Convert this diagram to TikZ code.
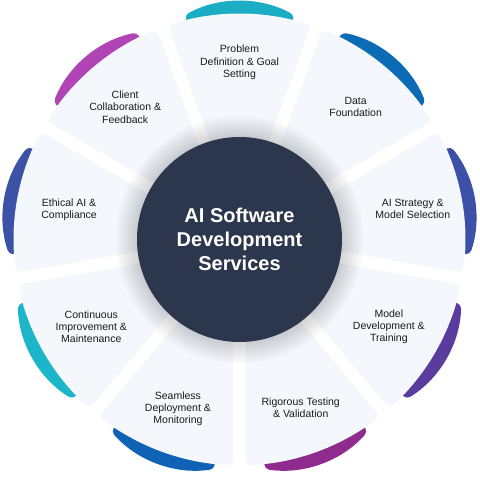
\documentclass[tikz,border=0pt]{standalone}
\usepackage{fontspec}
\setmainfont{Liberation Sans}
\usetikzlibrary{positioning}

\definecolor{petalfill}{HTML}{F4F7FC}
\definecolor{navy}{HTML}{2C374D}
\definecolor{textdark}{HTML}{1A1A1A}
\definecolor{bandTeal}{HTML}{1AADC3}
\definecolor{bandBlue}{HTML}{0B6CB5}
\definecolor{bandIndigo}{HTML}{3B50A6}
\definecolor{bandViolet}{HTML}{5A3C9F}
\definecolor{bandPlum}{HTML}{8F2B8F}
\definecolor{bandRoyal}{HTML}{0F62B5}
\definecolor{bandCyan}{HTML}{1CB5C9}
\definecolor{bandSlate}{HTML}{3C52A6}
\definecolor{bandOrchid}{HTML}{B144B5}

\tikzset{
    x=1pt,
    y=1pt,
    hub/.style = {
        shape=circle,
        fill=navy,
        minimum size=205pt,
        inner sep=0pt,
        text=white,
        align=center,
        font=\fontsize{20}{24}\selectfont\bfseries
    },
    service/.style = {
        align=center,
        inner sep=0pt,
        text=textdark,
        font=\fontsize{10.5}{12.3}\selectfont
    },
    pics/petal/.style = {
        code = {
            % coloured rim behind the card
            \fill[#1, rounded corners=4pt] (0,125.5) ++(61.16:113pt)
                arc[start angle=61.16, end angle=118.84, radius=113pt]
                -- (104:200) -- (76:200) -- cycle;
            % the card itself
            \fill[petalfill] (-14.88,58.43) -- (-66.84,201.19)
                .. controls (108.48:226) .. (104.93:226)
                arc[start angle=104.93, end angle=75.07, radius=226pt]
                .. controls (71.52:226) .. (66.84,201.19)
                -- (14.88,58.43) -- cycle;
        }
    }
}

\begin{document}
\begin{tikzpicture}

    \useasboundingbox (-239.5,-237.5) rectangle (240.5,239.5);

    \pic[rotate=0] (problem) at (0,0) {petal=bandTeal};
    \pic[rotate=-40] (data) at (0,0) {petal=bandBlue};
    \pic[rotate=-80] (strategy) at (0,0) {petal=bandIndigo};
    \pic[rotate=-120] (model) at (0,0) {petal=bandViolet};
    \pic[rotate=-160] (testing) at (0,0) {petal=bandPlum};
    \pic[rotate=160] (deploy) at (0,0) {petal=bandRoyal};
    \pic[rotate=120] (improve) at (0,0) {petal=bandCyan};
    \pic[rotate=80] (ethics) at (0,0) {petal=bandSlate};
    \pic[rotate=40] (client) at (0,0) {petal=bandOrchid};

    % soft shadow round the hub
    \foreach \r in {104,106,...,124}
        \fill[black, opacity=0.016] (0,0) circle (\r pt);

    \node[hub] (hub) at (0,0) {AI Software\\Development\\Services};

    \node[service] (problem_txt) at (90:177) {Problem\\Definition \& Goal\\Setting};
    \node[service] (data_txt) at (48.7:176) {Data\\Foundation};
    \node[service] (strategy_txt) at (10:176) {AI Strategy \&\\Model Selection};
    \node[service] (model_txt) at (-30.3:173) {Model\\Development \&\\Training};
    \node[service] (testing_txt) at (-70:179) {Rigorous Testing\\\& Validation};
    \node[service] (deploy_txt) at (-110:180) {Seamless\\Deployment \&\\Monitoring};
    \node[service] (improve_txt) at (-149.5:172) {Continuous\\Improvement \&\\Maintenance};
    \node[service] (ethics_txt) at (170:173) {Ethical AI \&\\Compliance};
    \node[service] (client_txt) at (130.8:175) {Client\\Collaboration \&\\Feedback};

\end{tikzpicture}
\end{document}
